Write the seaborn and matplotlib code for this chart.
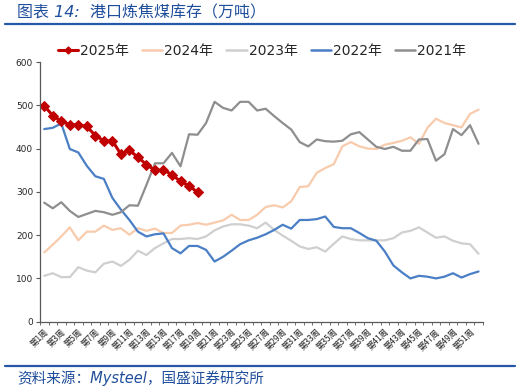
import numpy as np
import pandas as pd
import matplotlib
matplotlib.use('Agg')
import matplotlib.pyplot as plt
import seaborn as sns
from matplotlib.lines import Line2D

weeks = [f'第{i}周' for i in range(1, 53)]

y2025 = [499, 476, 463, 455, 455, 451, 430, 418, 418, 387, 396, 380, 363, 350, 350, 340, 324, 314, 299]
y2024 = [160, 178, 197, 218, 188, 208, 208, 222, 212, 216, 201, 216, 210, 215, 205, 205, 222, 224,
         228, 224, 229, 234, 247, 235, 235, 247, 265, 269, 264, 278, 311, 313, 344, 355, 364,
         405, 415, 405, 400, 399, 409, 413, 418, 426, 411, 448, 469, 459, 454, 449, 480, 490]
y2023 = [106, 112, 103, 103, 126, 118, 114, 134, 139, 129, 143, 164, 154, 170, 181, 191, 191, 193,
         191, 197, 211, 220, 225, 225, 222, 216, 229, 212, 199, 187, 174, 168, 172, 162, 180,
         197, 191, 188, 188, 188, 188, 193, 206, 210, 218, 206, 194, 197, 187, 181, 179, 157]
y2022 = [445, 448, 458, 399, 391, 360, 336, 330, 286, 259, 235, 208, 197, 202, 204, 170, 158, 175,
         175, 166, 139, 150, 164, 179, 188, 194, 202, 212, 224, 215, 235, 235, 237, 243, 219,
         216, 216, 205, 193, 187, 162, 130, 114, 100, 106, 104, 100, 104, 112, 102, 110, 116]
y2021 = [275, 262, 276, 256, 242, 249, 256, 253, 247, 253, 269, 268, 316, 366, 366, 390, 359, 433,
         432, 459, 508, 494, 488, 508, 508, 488, 492, 475, 459, 444, 415, 405, 421, 417, 416,
         418, 433, 438, 421, 404, 399, 404, 395, 395, 421, 422, 372, 387, 445, 431, 454, 411]

years = ['2025年', '2024年', '2023年', '2022年', '2021年']
colors = ['#C00000', '#F8CBAD', '#CFCFCF', '#4A7FC6', '#8E8E8E']

series = {
    '2025年': y2025 + [np.nan] * (52 - len(y2025)),
    '2024年': y2024,
    '2023年': y2023,
    '2022年': y2022,
    '2021年': y2021,
}
df = pd.DataFrame(series)
df['idx'] = np.arange(52)

sns.set_style('white')
plt.rcParams['font.family'] = ['DejaVu Sans', 'Noto Sans CJK SC']

fig = plt.figure(figsize=(5.2, 3.92), dpi=100)
ax = fig.add_axes([40 / 520, 1 - 321.7 / 392, 442.8 / 520, 259.7 / 392])

# draw order: 2023, 2024, 2022, 2021, 2025 on top
for yr in ['2023年', '2024年', '2022年', '2021年']:
    c = colors[years.index(yr)]
    sns.lineplot(data=df, x='idx', y=yr, ax=ax, color=c, linewidth=1.6)
sns.lineplot(data=df, x='idx', y='2025年', ax=ax, color=colors[0], linewidth=2.2,
             marker='D', markersize=5, markeredgecolor=colors[0])

ax.set_xlim(-0.5, 51.5)
ax.set_ylim(0, 600)
ax.set_yticks(range(0, 601, 100))
ax.set_xticks(range(0, 52, 2))
ax.set_xticklabels(weeks[::2], rotation=45, ha='right', rotation_mode='anchor',
                   fontsize=6, color='#222222', family=['Noto Sans CJK SC'])
ax.set_xticks(np.arange(-0.5, 52, 1), minor=True)
ax.tick_params(axis='x', which='major', length=0, pad=4)
ax.tick_params(axis='x', which='minor', length=2.5, color='#595959', direction='out', bottom=True)
ax.tick_params(axis='y', length=3, color='#595959', direction='out', left=True,
               labelsize=6.5, pad=2)
ax.set_xlabel('')
ax.set_ylabel('')
for s in ['top', 'right']:
    ax.spines[s].set_visible(False)
for s in ['left', 'bottom']:
    ax.spines[s].set_color('#595959')
    ax.spines[s].set_linewidth(0.9)

handles = []
for yr, c in zip(years, colors):
    if yr == '2025年':
        handles.append(Line2D([], [], color=c, lw=2.2, marker='D', markersize=3.5))
    else:
        handles.append(Line2D([], [], color=c, lw=1.8))
fig.legend(handles, years, loc='center', bbox_to_anchor=(262 / 520, 1 - 50.5 / 392),
           ncol=5, frameon=False, fontsize=10, handlelength=1.45, handletextpad=0.15,
           columnspacing=0.95)

blue = '#1F4E9C'
fig.text(17 / 520, 1 - 13 / 392, '图表 14:  港口炼焦煤库存（万吨）', color=blue,
         fontsize=11.5, style='italic', va='center', ha='left',
         family=['DejaVu Sans', 'Noto Sans CJK SC'])
fig.add_artist(Line2D([5 / 520, 515 / 520], [1 - 24 / 392, 1 - 24 / 392],
                      transform=fig.transFigure, color='#2558A8', lw=1.6))
fig.add_artist(Line2D([5 / 520, 515 / 520], [1 - 366 / 392, 1 - 366 / 392],
                      transform=fig.transFigure, color='#2558A8', lw=1.6))
fig.text(17 / 520, 1 - 378.5 / 392, '资料来源：Mysteel，国盛证券研究所', color=blue,
         fontsize=10.5, style='italic', va='center', ha='left',
         family=['DejaVu Sans', 'Noto Sans CJK SC'])

fig.savefig('out.png', dpi=100)
